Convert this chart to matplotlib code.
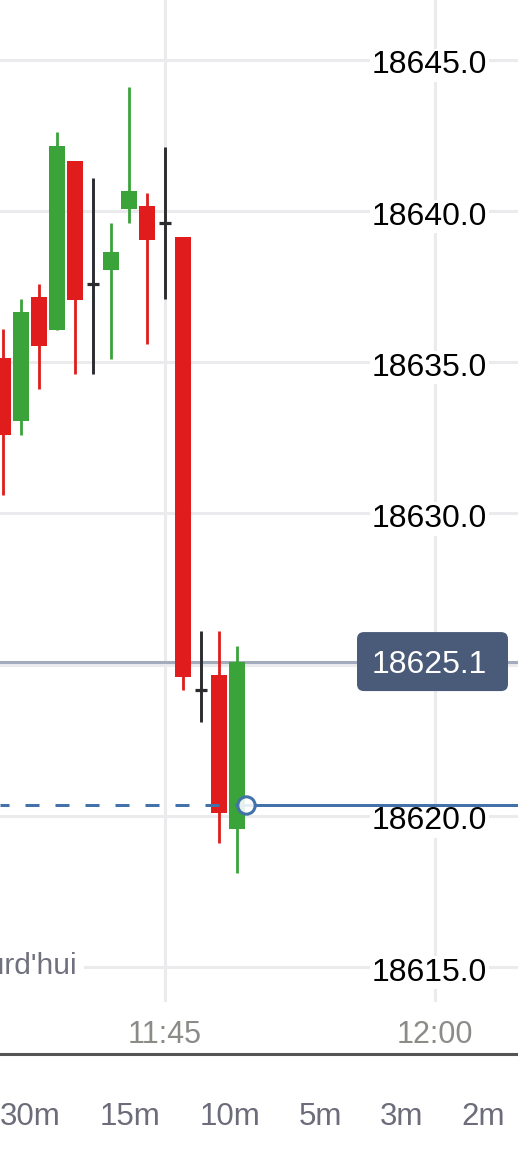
import matplotlib
matplotlib.use("Agg")
import matplotlib.pyplot as plt
from matplotlib.patches import FancyBboxPatch
from matplotlib.lines import Line2D
from matplotlib.transforms import IdentityTransform
import numpy as np

plt.rcParams['font.family'] = ['Liberation Sans', 'DejaVu Sans']

# bougies 1 minute
heures = ["11:36", "11:37", "11:38", "11:39", "11:40", "11:41", "11:42",
          "11:43", "11:44", "11:45", "11:46", "11:47", "11:48", "11:49"]
ouverture = [18635.15, 18633.05, 18637.15, 18636.05, 18641.65, 18637.60, 18638.05,
             18640.05, 18640.15, 18639.60, 18639.15, 18624.15, 18624.65, 18619.55]
haut = [18636.10, 18637.10, 18637.60, 18642.60, 18641.65, 18641.10, 18639.60,
        18644.10, 18640.60, 18642.10, 18639.15, 18626.10, 18626.10, 18625.60]
bas = [18630.60, 18632.60, 18634.10, 18636.05, 18634.60, 18634.60, 18635.10,
       18639.60, 18635.60, 18637.10, 18624.15, 18623.10, 18619.10, 18618.10]
cloture = [18632.60, 18636.65, 18635.55, 18642.15, 18637.05, 18637.60, 18638.65,
           18640.65, 18639.05, 18639.60, 18624.60, 18624.15, 18620.10, 18625.10]

prix_ticks = [18615.0, 18620.0, 18625.0, 18630.0, 18635.0, 18640.0, 18645.0]
heure_ticks = ["11:45", "12:00"]
onglets = ["30m", "15m", "10m", "5m", "3m", "2m"]
dernier_prix = 18625.1
prix_repere = 18620.35
heure_repere = "11:49:30"
label_jour = "aujourd'hui"

ROUGE = '#e01c1c'
VERT = '#3aa33a'
NOIR = '#2b2b30'
BLEU = '#4272a9'


def minutes(h):
    p = [int(v) for v in h.split(':')]
    m = p[0] * 60 + p[1] + (p[2] / 60 if len(p) > 2 else 0)
    return m - (11 * 60 + 45)


W, H = 518, 1155
fig = plt.figure(figsize=(W / 100, H / 100), dpi=100)
ax = fig.add_axes([0, 1 - 1002 / H, 1, 1002 / H])
ax.set_xlim(-165 / 18, 353 / 18)
ax.set_ylim(18640 - 791 / 30.24, 18640 + 211 / 30.24)
ax.axis('off')

# grille
for p in prix_ticks:
    ax.axhline(p, color='#ebebee', lw=2.2, zorder=1)
for h in heure_ticks:
    ax.axvline(minutes(h), color='#ebebee', lw=2.2, zorder=1)

x = np.array([minutes(h) for h in heures])
o = np.array(ouverture)
c = np.array(cloture)
largeur = 16 / 18

for xi, oi, hi, li, ci in zip(x, o, haut, bas, c):
    if abs(ci - oi) < 1e-6:
        ax.vlines(xi, li, hi, color=NOIR, lw=2.1, zorder=4)
        ax.hlines(ci, xi - 0.34, xi + 0.34, color=NOIR, lw=2.3, zorder=4)
        continue
    col = VERT if ci > oi else ROUGE
    ax.vlines(xi, li, hi, color=col, lw=2.0, zorder=4)
    ax.bar(xi, abs(ci - oi), bottom=min(oi, ci), width=largeur, color=col,
           zorder=5)

# ligne du dernier prix
ax.axhline(dernier_prix, color='#a2acbd', lw=2.2, zorder=3)

# ligne bleue + repère
xr = minutes(heure_repere)
x0, x1 = ax.get_xlim()
ax.plot([x0, xr], [prix_repere, prix_repere], color=BLEU, lw=2.16,
        linestyle=(1.67, (4.67, 5.33)), zorder=6)
ax.plot([xr, x1], [prix_repere, prix_repere], color=BLEU, lw=2.16, zorder=6)
ax.plot([xr], [prix_repere], 'o', ms=12.5, mew=2.2, mec=BLEU,
        mfc=(1, 1, 1, 0.88), zorder=8)

# étiquettes de prix (celle cachée par la boîte du dernier prix est sautée)
for p in prix_ticks:
    if abs(p - dernier_prix) < 1.5:
        continue
    kw = dict(xy=(372 / W, p), xycoords=('axes fraction', 'data'),
              xytext=(0, -9.8), textcoords='offset points',
              fontsize=23, ha='left', va='baseline')
    ax.annotate(f"{p:.1f}", color='white', zorder=2,
                bbox=dict(boxstyle='square,pad=0.05', fc='white', ec='none'), **kw)
    ax.annotate(f"{p:.1f}", color='black', zorder=7, **kw)

ax.annotate(label_jour, xy=(77 / W, 18615.0), xycoords=('axes fraction', 'data'),
            xytext=(0, -4.7), textcoords='offset points', fontsize=21.5,
            ha='right', va='baseline', color='#70707e', zorder=2,
            bbox=dict(boxstyle='square,pad=0.25', fc='white', ec='none'))

# boîte du dernier prix
fig.canvas.draw()
yd = ax.transData.transform((0, dernier_prix))[1]
boite = FancyBboxPatch((357, yd - 29.5), 151, 59,
                       boxstyle='round,pad=0,rounding_size=7',
                       fc='#4a5a79', ec='none', transform=IdentityTransform(),
                       zorder=9, clip_on=False)
ax.add_artist(boite)
ax.annotate(f"{dernier_prix:.1f}", xy=(372 / W, dernier_prix),
            xycoords=('axes fraction', 'data'), xytext=(0, -8.0),
            textcoords='offset points', fontsize=23, ha='left',
            va='baseline', color='white', zorder=10, annotation_clip=False)

# heures
for h in heure_ticks:
    ax.text(minutes(h), -(1043 - 1002) / 1002, h, transform=ax.get_xaxis_transform(),
            ha='center', va='baseline', fontsize=22, color='#8b8b87', clip_on=False)

fig.add_artist(Line2D([0, 1], [1 - 1054 / H] * 2, transform=fig.transFigure,
                      color='#555555', lw=2.2))

# onglets d'intervalle
onglet_x = [30, 129.5, 229.5, 320, 401.5, 483.5]
for t, xp in zip(onglets, onglet_x):
    fig.text(xp / W, 1 - 1125 / H, t, ha='center', va='baseline', fontsize=22.5,
             color='#6c6c7a')

# fondu sur le bord droit
fondu = fig.add_axes([484 / W, 1 - 1140 / H, 34 / W, 50 / H])
grad = np.ones((1, 64, 4))
grad[0, :, 3] = np.linspace(0.15, 0.85, 64)
fondu.imshow(grad, aspect='auto')
fondu.axis('off')

fig.savefig("out.png", dpi=100)
